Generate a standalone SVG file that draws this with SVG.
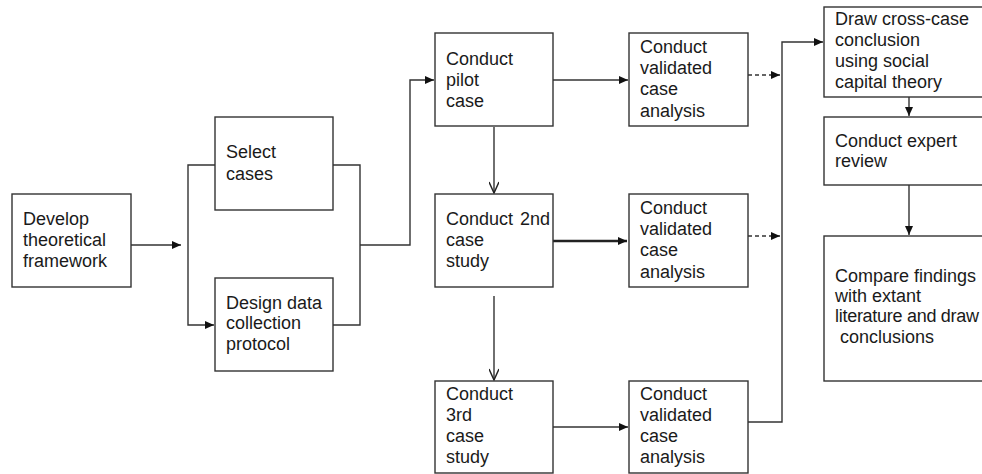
<svg xmlns="http://www.w3.org/2000/svg" width="982" height="474" viewBox="0 0 982 474">
<defs>
<style>
.box{fill:#fff;stroke:#333;stroke-width:1.4}
.t{font-family:"Liberation Sans",Arial,sans-serif;font-size:18px;fill:#1a1a1a}
.ln{fill:none;stroke:#333;stroke-width:1.4}
.thick{fill:none;stroke:#222;stroke-width:2.4}
.dash{fill:none;stroke:#333;stroke-width:1.3;stroke-dasharray:4 3}
</style>
<marker id="tri" markerWidth="10" markerHeight="8" refX="9" refY="4" orient="auto" markerUnits="userSpaceOnUse">
<path d="M0,0 L9,4 L0,8 Z" fill="#111"/>
</marker>
<marker id="vee" markerWidth="14" markerHeight="10" refX="12" refY="5" orient="auto" markerUnits="userSpaceOnUse">
<path d="M1,0 L12,5 L1,10" fill="none" stroke="#222" stroke-width="1.5"/>
</marker>
</defs>
<rect width="982" height="474" fill="#fff"/>

<g id="connectors">
<path class="ln" d="M131,245 H181" marker-end="url(#tri)"/>
<path class="ln" d="M215,165 H188 V325 H214" marker-end="url(#tri)"/>
<path class="ln" d="M333,165 H360 V325 H333"/>
<path class="ln" d="M360,245 H410 V80 H434" marker-end="url(#tri)"/>
<path class="ln" d="M553,80 H628" marker-end="url(#tri)"/>
<path class="thick" d="M553,241 H627" marker-end="url(#tri)"/>
<path class="ln" d="M553,427 H628" marker-end="url(#tri)"/>
<path class="ln" d="M494,127 V193" marker-end="url(#vee)"/>
<path class="ln" d="M494,296 V380" marker-end="url(#vee)"/>
<path class="dash" d="M748,75 H780" marker-end="url(#tri)"/>
<path class="dash" d="M748,236 H780" marker-end="url(#tri)"/>
<path class="ln" d="M748,422 H782 V42 H823" marker-end="url(#tri)"/>
<path class="ln" d="M909,97 V116" marker-end="url(#tri)"/>
<path class="ln" d="M909,185 V235" marker-end="url(#tri)"/>
</g>

<g id="develop"><rect class="box" x="12" y="194" width="119" height="93"/>
<text class="t" x="23" y="225">Develop</text><text class="t" x="23" y="246">theoretical</text><text class="t" x="23" y="267">framework</text></g>

<g id="select"><rect class="box" x="215" y="117" width="118" height="93"/>
<text class="t" x="226" y="158">Select</text><text class="t" x="226" y="180">cases</text></g>

<g id="design"><rect class="box" x="215" y="278" width="118" height="93"/>
<text class="t" x="226" y="309">Design data</text><text class="t" x="226" y="329">collection</text><text class="t" x="226" y="350">protocol</text></g>

<g id="pilot"><rect class="box" x="435" y="33" width="118" height="93"/>
<text class="t" x="446" y="65">Conduct</text><text class="t" x="446" y="86">pilot</text><text class="t" x="446" y="107">case</text></g>

<g id="val1"><rect class="box" x="629" y="33" width="119" height="93"/>
<text class="t" x="640" y="53">Conduct</text><text class="t" x="640" y="74">validated</text><text class="t" x="640" y="95">case</text><text class="t" x="640" y="117">analysis</text></g>

<g id="second"><rect class="box" x="435" y="194" width="118" height="93"/>
<text class="t" x="446" y="225">Conduct <tspan dx="2">2nd</tspan></text><text class="t" x="446" y="246">case</text><text class="t" x="446" y="267">study</text></g>

<g id="val2"><rect class="box" x="629" y="194" width="119" height="93"/>
<text class="t" x="640" y="214">Conduct</text><text class="t" x="640" y="235">validated</text><text class="t" x="640" y="256">case</text><text class="t" x="640" y="278">analysis</text></g>

<g id="third"><rect class="box" x="435" y="381" width="118" height="92"/>
<text class="t" x="446" y="400">Conduct</text><text class="t" x="446" y="421">3rd</text><text class="t" x="446" y="442">case</text><text class="t" x="446" y="463">study</text></g>

<g id="val3"><rect class="box" x="629" y="381" width="119" height="92"/>
<text class="t" x="640" y="400">Conduct</text><text class="t" x="640" y="421">validated</text><text class="t" x="640" y="442">case</text><text class="t" x="640" y="463">analysis</text></g>

<g id="draw"><rect class="box" x="824" y="7" width="180" height="90"/>
<text class="t" x="835" y="25">Draw cross-case</text><text class="t" x="835" y="46">conclusion</text><text class="t" x="835" y="67">using social</text><text class="t" x="835" y="88">capital theory</text></g>

<g id="expert"><rect class="box" x="824" y="117" width="180" height="68"/>
<text class="t" x="835" y="147">Conduct expert</text><text class="t" x="835" y="167">review</text></g>

<g id="compare"><rect class="box" x="824" y="236" width="180" height="145"/>
<text class="t" x="835" y="282">Compare findings</text><text class="t" x="835" y="302">with extant</text><text class="t" x="835" y="322" textLength="144" lengthAdjust="spacing">literature and draw</text><text class="t" x="840" y="343">conclusions</text></g>
</svg>
